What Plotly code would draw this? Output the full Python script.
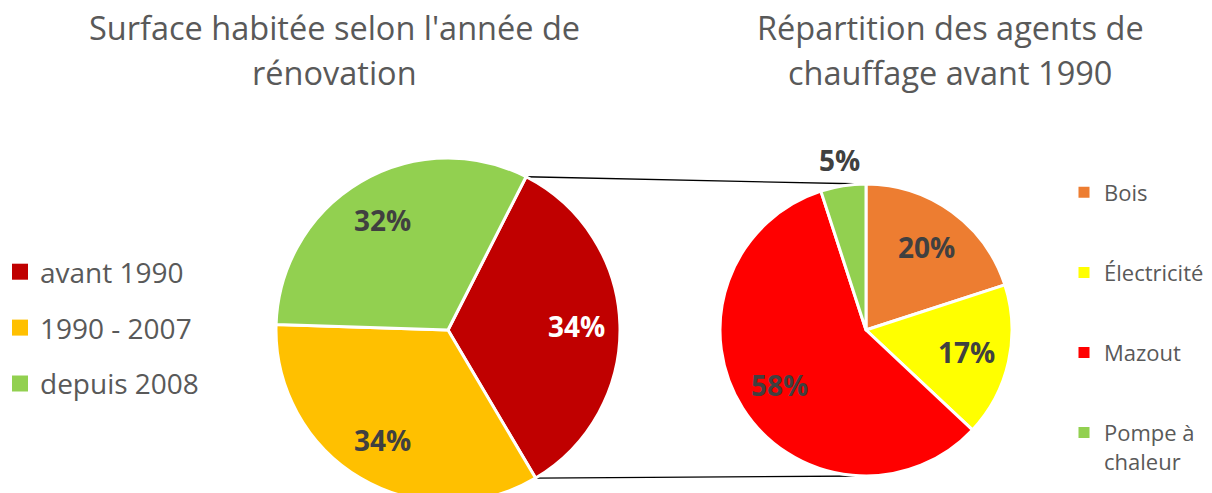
import math
import plotly.graph_objects as go

# ---- data ----
left_labels = ["avant 1990", "1990 - 2007", "depuis 2008"]
left_values = [34, 34, 32]
left_colors = ["#C00000", "#FFC000", "#92D050"]
left_text_colors = ["#FFFFFF", "#404040", "#404040"]

right_labels = ["Bois", "Électricité", "Mazout", "Pompe à chaleur"]
right_legend_names = ["Bois", "Électricité", "Mazout", "Pompe à<br>chaleur"]
right_values = [20, 17, 58, 5]
right_colors = ["#ED7D31", "#FFFF00", "#FF0000", "#92D050"]
right_label_outside = [False, False, False, True]

left_title_lines = ["Surface habitée selon l'année de", "rénovation"]
right_title_lines = ["Répartition des agents de", "chauffage avant 1990"]

TEXT_GREY = "#595959"
LABEL_GREY = "#404040"
FONT = "Open Sans"

# ---- page geometry (pixels in the 1212x493 window) ----
WF, HF = 1212, 502          # figure slightly taller than the window (pie is cut)
L_CX, L_CY, L_R = 448, 330, 172
R_CX, R_CY, R_R = 866, 330, 146
L_ROT = 27
L_LABEL_FRAC = 0.745
R_LABEL_FRAC = 0.705
R_OUT_FRAC = 1.18


def fx(px):
    return px / WF


def fy(py):
    return 1 - py / HF


def dom(cx, cy, r):
    return dict(x=[fx(cx - r), fx(cx + r)], y=[max(0, fy(cy + r)), fy(cy - r)])


def polar(cx, cy, r, deg):
    a = math.radians(deg)
    return cx + r * math.sin(a), cy - r * math.cos(a)


fig = go.Figure()

fig.add_trace(go.Pie(
    labels=left_labels, values=left_values, sort=False, direction="clockwise",
    rotation=L_ROT, domain=dom(L_CX, L_CY, L_R),
    marker=dict(colors=left_colors, line=dict(color="white", width=3)),
    textinfo="none", showlegend=False, hoverinfo="skip",
))

fig.add_trace(go.Pie(
    labels=right_labels, values=right_values, sort=False, direction="clockwise",
    rotation=0, domain=dom(R_CX, R_CY, R_R),
    marker=dict(colors=right_colors, line=dict(color="white", width=3)),
    textinfo="none", showlegend=False, hoverinfo="skip",
))

# legend entries (one group each so spacing can be controlled)
for name, col in zip(left_labels, left_colors):
    fig.add_trace(go.Scatter(
        x=[None], y=[None], mode="markers", name=name, legend="legend",
        legendgroup="L" + name,
        marker=dict(symbol="square", size=16, color=col), hoverinfo="skip"))
for name, col in zip(right_legend_names, right_colors):
    fig.add_trace(go.Scatter(
        x=[None], y=[None], mode="markers", name=name, legend="legend2",
        legendgroup="R" + name,
        marker=dict(symbol="square", size=11, color=col), hoverinfo="skip"))

annotations = []


def slice_labels(values, rot, cx, cy, r, frac, colors, outside=None, out_frac=None):
    tot = sum(values)
    start = rot
    for i, v in enumerate(values):
        span = 360 * v / tot
        mid = start + span / 2
        f = out_frac if (outside and outside[i]) else frac
        x, y = polar(cx, cy, r * f, mid)
        annotations.append(dict(
            text=f"{round(100 * v / tot)}%", x=fx(x), y=fy(y),
            xref="paper", yref="paper", xanchor="center", yanchor="middle",
            showarrow=False,
            font=dict(family=FONT, size=28, color=colors[i], weight="bold")))
        start += span


slice_labels(left_values, L_ROT, L_CX, L_CY, L_R, L_LABEL_FRAC, left_text_colors)
slice_labels(right_values, 0, R_CX, R_CY, R_R, R_LABEL_FRAC,
             [LABEL_GREY] * len(right_values), right_label_outside, R_OUT_FRAC)

# connector lines from the "avant 1990" slice to the detail pie
tot = sum(left_values)
p_top = polar(L_CX, L_CY, L_R, L_ROT)
p_bot = polar(L_CX, L_CY, L_R, L_ROT + 360 * left_values[0] / tot)
q_top = (R_CX, R_CY - R_R)
q_bot = (R_CX, R_CY + R_R)
shapes = []
for p, q in ((p_top, q_top), (p_bot, q_bot)):
    shapes.append(dict(type="line", xref="paper", yref="paper",
                       x0=fx(p[0]), y0=fy(p[1]), x1=fx(q[0]), y1=fy(q[1]),
                       line=dict(color="black", width=1.3), layer="below"))

# titles
for lines, cxp in ((left_title_lines, 334), (right_title_lines, 950)):
    for line, ypx in zip(lines, (28, 73)):
        annotations.append(dict(
            text=line, x=fx(cxp), y=fy(ypx), xref="paper", yref="paper",
            xanchor="center", yanchor="middle", showarrow=False,
            font=dict(family=FONT, size=32.5, color=TEXT_GREY)))

fig.update_layout(
    width=WF, height=HF,
    margin=dict(l=0, r=0, t=0, b=0),
    paper_bgcolor="white", plot_bgcolor="white",
    font=dict(family=FONT, color=TEXT_GREY),
    xaxis=dict(visible=False), yaxis=dict(visible=False),
    shapes=shapes, annotations=annotations,
    legend=dict(x=0, y=fy(247), xanchor="left", yanchor="top",
                bgcolor="rgba(0,0,0,0)", tracegroupgap=16.5, itemsizing="trace",
                font=dict(family=FONT, size=28, color=TEXT_GREY)),
    legend2=dict(x=fx(1064), y=fy(171.5), xanchor="left", yanchor="top",
                 bgcolor="rgba(0,0,0,0)", tracegroupgap=48.5, itemsizing="trace",
                 valign="top",
                 font=dict(family=FONT, size=22, color=TEXT_GREY)),
)

fig.write_html(
    "out.html",
    config={"displayModeBar": False},
    post_script=("document.body.style.margin='0';"
                 "document.body.style.overflow='hidden';"
                 "document.documentElement.style.overflow='hidden';"),
)
